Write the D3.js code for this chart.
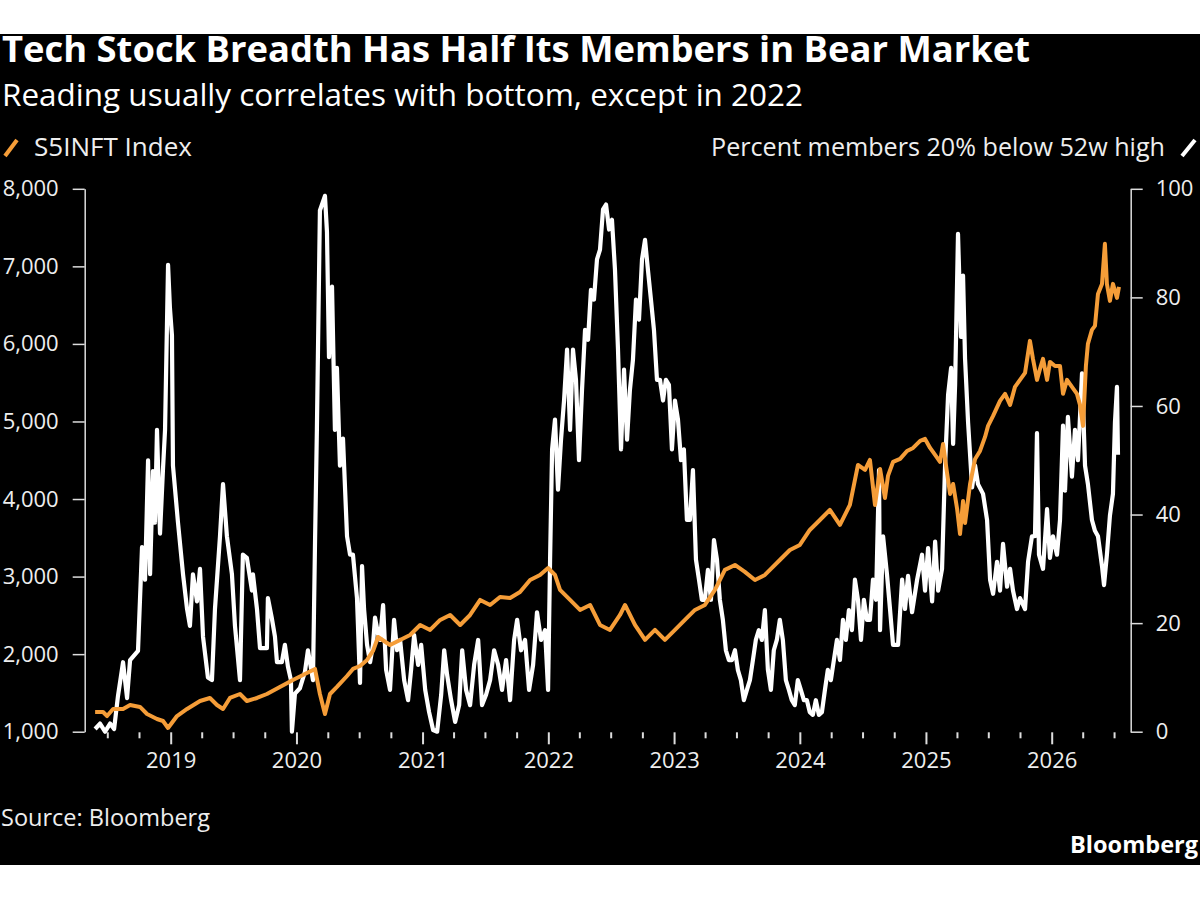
<!DOCTYPE html>
<html>
<head>
<meta charset="utf-8">
<script src="https://cdn.jsdelivr.net/npm/d3@7"></script>
<style>
  body { margin: 0; background: #fff; }
  svg { display: block; }
</style>
</head>
<body>
<div id="chart"></div>
<script>
// Percent of S5INFT members 20% below their 52-week high (right axis)
// [decimal year, percent]
const breadthPoints = [
  [2018.399, 0.5], [2018.438, 1.5], [2018.478, 0], [2018.518, 1.5], [2018.550, 0.5],
  [2018.581, 6.6], [2018.621, 12.8], [2018.653, 6.2], [2018.677, 13.2], [2018.740, 14.9],
  [2018.772, 34], [2018.796, 28], [2018.820, 50], [2018.836, 29], [2018.859, 48],
  [2018.875, 38.5], [2018.891, 55.6], [2018.915, 36.5], [2018.939, 48.5], [2018.955, 55.6],
  [2018.979, 86], [2018.994, 78], [2019.010, 73], [2019.018, 49], [2019.058, 38.5],
  [2019.098, 29], [2019.130, 22.6], [2019.153, 19.5], [2019.177, 29], [2019.209, 24],
  [2019.233, 30], [2019.257, 17.5], [2019.296, 10], [2019.328, 9.5], [2019.352, 22.6],
  [2019.392, 36], [2019.416, 45.6], [2019.447, 36], [2019.487, 29], [2019.511, 19.5],
  [2019.551, 9.5], [2019.574, 32.6], [2019.606, 32], [2019.646, 26], [2019.654, 29],
  [2019.686, 22.6], [2019.710, 15.4], [2019.765, 15.4], [2019.773, 24.6], [2019.805, 20.8],
  [2019.829, 17.5], [2019.845, 12.8], [2019.884, 12.8], [2019.908, 16], [2019.932, 12],
  [2019.956, 9.5], [2019.964, 0], [2019.988, 7], [2020.027, 8], [2020.067, 11],
  [2020.091, 15], [2020.131, 9.5], [2020.147, 34.6], [2020.162, 55.6], [2020.186, 96],
  [2020.226, 98.7], [2020.242, 92], [2020.258, 69], [2020.282, 82], [2020.305, 55.6],
  [2020.321, 67], [2020.345, 49], [2020.369, 54], [2020.401, 36], [2020.425, 32.6],
  [2020.448, 32.6], [2020.480, 24.6], [2020.504, 9], [2020.520, 30.5], [2020.536, 22.6],
  [2020.560, 16], [2020.584, 12.8], [2020.607, 16], [2020.623, 21], [2020.647, 18],
  [2020.663, 16.9], [2020.687, 23.3], [2020.711, 11.4], [2020.742, 7.7], [2020.774, 20.6],
  [2020.798, 15], [2020.822, 16.9], [2020.854, 9.5], [2020.885, 5.8], [2020.909, 11.4],
  [2020.933, 17.8], [2020.965, 12.3], [2020.989, 16], [2021.021, 7.7], [2021.052, 3.6],
  [2021.084, 0.3], [2021.116, 0], [2021.148, 6.8], [2021.172, 15], [2021.195, 10.5],
  [2021.227, 5.8], [2021.259, 1.8], [2021.291, 4.9], [2021.315, 15], [2021.346, 7.7],
  [2021.378, 4.9], [2021.410, 12.3], [2021.442, 16.9], [2021.473, 4.9], [2021.505, 6.8],
  [2021.537, 9.5], [2021.569, 15], [2021.601, 12.3], [2021.632, 7.7], [2021.664, 13.2],
  [2021.696, 5.8], [2021.728, 16.9], [2021.752, 20.6], [2021.783, 15], [2021.815, 16.9],
  [2021.847, 7.7], [2021.879, 12.3], [2021.910, 22], [2021.942, 16.9], [2021.974, 18.7],
  [2021.998, 7.7], [2022.014, 31.7], [2022.030, 52], [2022.053, 57.5], [2022.077, 44.6],
  [2022.101, 53.8], [2022.125, 61], [2022.149, 70.4], [2022.173, 55.6], [2022.196, 70.4],
  [2022.220, 64.8], [2022.244, 50], [2022.268, 63], [2022.292, 74], [2022.316, 72.2],
  [2022.339, 81.4], [2022.363, 79.6], [2022.387, 87], [2022.411, 88.8], [2022.435, 96.2],
  [2022.459, 97.1], [2022.483, 92.5], [2022.506, 94.3], [2022.530, 85.1], [2022.554, 70.4],
  [2022.578, 52], [2022.602, 66.7], [2022.626, 53.8], [2022.649, 63], [2022.673, 68.5],
  [2022.697, 79.6], [2022.721, 75.9], [2022.745, 87], [2022.769, 90.6], [2022.792, 85.1],
  [2022.816, 79.6], [2022.840, 74], [2022.864, 64.8], [2022.888, 64.8], [2022.912, 61],
  [2022.935, 64.8], [2022.959, 63.9], [2022.983, 52], [2023.007, 61], [2023.031, 57.5],
  [2023.055, 50], [2023.078, 52], [2023.102, 39], [2023.126, 39], [2023.150, 48.2],
  [2023.174, 31.7], [2023.198, 28], [2023.221, 24.3], [2023.245, 24.3], [2023.269, 29.8],
  [2023.293, 24.3], [2023.317, 35.3], [2023.341, 31.7], [2023.364, 24.3], [2023.388, 20.6],
  [2023.412, 15], [2023.436, 13.2], [2023.460, 13.2], [2023.484, 15], [2023.507, 11.4],
  [2023.531, 9.5], [2023.555, 5.8], [2023.579, 7.7], [2023.603, 9.5], [2023.627, 13.2],
  [2023.650, 16.9], [2023.674, 18.7], [2023.698, 16.9], [2023.722, 22.4], [2023.746, 11.4],
  [2023.770, 7.7], [2023.793, 15], [2023.817, 16.9], [2023.841, 20.6], [2023.865, 16.9],
  [2023.889, 9.5], [2023.913, 7.7], [2023.936, 5.8], [2023.960, 4.9], [2023.984, 9.5],
  [2024.008, 7.7], [2024.032, 5.8], [2024.056, 5.8], [2024.079, 3.6], [2024.103, 3.1],
  [2024.127, 5.8], [2024.151, 3.1], [2024.175, 3.6], [2024.199, 7.7], [2024.222, 11.4],
  [2024.246, 9.5], [2024.270, 13.2], [2024.294, 16.9], [2024.318, 13.2], [2024.342, 20.6],
  [2024.365, 16.9], [2024.389, 22.4], [2024.413, 18.7], [2024.437, 28], [2024.461, 24.3],
  [2024.485, 16.9], [2024.508, 24.3], [2024.532, 20.6], [2024.556, 20.6], [2024.580, 28],
  [2024.604, 24.3], [2024.628, 48.2], [2024.636, 18.7], [2024.660, 36], [2024.691, 29],
  [2024.715, 22.6], [2024.739, 16], [2024.779, 16], [2024.811, 28], [2024.834, 22.6],
  [2024.858, 28.7], [2024.890, 22], [2024.930, 28], [2024.969, 32.6], [2024.993, 26],
  [2025.017, 33.8], [2025.049, 24], [2025.073, 35], [2025.097, 26], [2025.128, 30],
  [2025.152, 49], [2025.176, 62], [2025.200, 67], [2025.216, 53], [2025.232, 64],
  [2025.255, 91.7], [2025.279, 72.7], [2025.295, 84], [2025.311, 68.7], [2025.335, 57],
  [2025.367, 45], [2025.391, 49], [2025.414, 45.6], [2025.454, 43.8], [2025.486, 39],
  [2025.510, 28], [2025.534, 25.4], [2025.565, 31.3], [2025.589, 26], [2025.613, 34.6],
  [2025.645, 26.7], [2025.669, 30], [2025.692, 26], [2025.724, 22.6], [2025.748, 24.6],
  [2025.788, 22.6], [2025.812, 31.3], [2025.843, 36], [2025.867, 36], [2025.883, 55],
  [2025.899, 32.6], [2025.931, 30], [2025.963, 41], [2025.986, 32], [2026.010, 36],
  [2026.042, 32.6], [2026.066, 39], [2026.090, 56.4], [2026.106, 44.4], [2026.129, 58],
  [2026.161, 47], [2026.185, 55.6], [2026.209, 50], [2026.241, 66], [2026.265, 49],
  [2026.288, 45.6], [2026.320, 39], [2026.344, 37], [2026.368, 36], [2026.400, 30.5],
  [2026.416, 27], [2026.439, 32.6], [2026.463, 39.8], [2026.487, 43.8], [2026.503, 57],
  [2026.519, 63.5], [2026.527, 51]
];

// S5INFT Index level (left axis)
// [decimal year, index]
const indexPoints = [
  [2018.399, 1254], [2018.462, 1254], [2018.494, 1202], [2018.542, 1293], [2018.621, 1293],
  [2018.677, 1344], [2018.756, 1319], [2018.812, 1228], [2018.891, 1164], [2018.939, 1138],
  [2018.979, 1048], [2019.050, 1202], [2019.130, 1293], [2019.233, 1396], [2019.312, 1435],
  [2019.368, 1344], [2019.416, 1293], [2019.471, 1435], [2019.551, 1486], [2019.606, 1396],
  [2019.686, 1435], [2019.765, 1486], [2019.868, 1577], [2019.972, 1667], [2020.083, 1757],
  [2020.147, 1809], [2020.186, 1486], [2020.226, 1228], [2020.266, 1486], [2020.321, 1577],
  [2020.401, 1718], [2020.448, 1809], [2020.504, 1847], [2020.560, 1925], [2020.607, 2041],
  [2020.647, 2221], [2020.742, 2118], [2020.822, 2183], [2020.901, 2247], [2020.981, 2376],
  [2021.060, 2312], [2021.140, 2441], [2021.219, 2505], [2021.299, 2376], [2021.378, 2505],
  [2021.458, 2699], [2021.537, 2634], [2021.616, 2737], [2021.696, 2724], [2021.775, 2802],
  [2021.855, 2956], [2021.934, 3021], [2021.998, 3111], [2022.053, 3021], [2022.093, 2828],
  [2022.173, 2699], [2022.252, 2570], [2022.332, 2634], [2022.411, 2376], [2022.490, 2312],
  [2022.570, 2505], [2022.610, 2634], [2022.689, 2376], [2022.769, 2183], [2022.848, 2312],
  [2022.927, 2183], [2023.007, 2312], [2023.086, 2441], [2023.166, 2570], [2023.245, 2634],
  [2023.325, 2828], [2023.404, 3086], [2023.484, 3150], [2023.563, 3060], [2023.643, 2956],
  [2023.722, 3021], [2023.762, 3086], [2023.841, 3214], [2023.921, 3343], [2024.000, 3408],
  [2024.079, 3601], [2024.159, 3730], [2024.238, 3859], [2024.318, 3666], [2024.397, 3924],
  [2024.461, 4440], [2024.517, 4375], [2024.556, 4504], [2024.596, 3924], [2024.636, 4388],
  [2024.675, 4014], [2024.699, 4298], [2024.739, 4478], [2024.795, 4517], [2024.850, 4620],
  [2024.898, 4659], [2024.954, 4749], [2024.993, 4775], [2025.033, 4659], [2025.073, 4569],
  [2025.112, 4478], [2025.136, 4710], [2025.168, 4336], [2025.192, 4065], [2025.216, 4194],
  [2025.248, 3872], [2025.271, 3549], [2025.295, 3975], [2025.311, 3691], [2025.351, 4194],
  [2025.391, 4517], [2025.430, 4620], [2025.470, 4801], [2025.494, 4943], [2025.534, 5072],
  [2025.589, 5265], [2025.629, 5356], [2025.669, 5214], [2025.708, 5446], [2025.748, 5536],
  [2025.788, 5627], [2025.827, 6039], [2025.851, 5807], [2025.883, 5536], [2025.907, 5678],
  [2025.931, 5807], [2025.963, 5536], [2025.986, 5768], [2026.026, 5716], [2026.066, 5716],
  [2026.090, 5356], [2026.122, 5536], [2026.161, 5446], [2026.201, 5356], [2026.225, 5214],
  [2026.249, 4943], [2026.272, 5716], [2026.288, 6000], [2026.320, 6181], [2026.344, 6233],
  [2026.368, 6645], [2026.400, 6774], [2026.423, 7290], [2026.439, 6774], [2026.463, 6555],
  [2026.487, 6774], [2026.519, 6594], [2026.535, 6735]
];

const leftTicks = [1000, 2000, 3000, 4000, 5000, 6000, 7000, 8000];
const rightTicks = [0, 20, 40, 60, 80, 100];

const ORANGE = '#f59d38';
const WHITE = '#ffffff';
const FONT = '"Open Sans", "Noto Sans", sans-serif';

const width = 1200, height = 900;

// decimal year -> UTC date
function yearDate(y) {
  const yr = Math.floor(y);
  const a = Date.UTC(yr, 0, 1), b = Date.UTC(yr + 1, 0, 1);
  return new Date(a + (y - yr) * (b - a));
}

// shrink/grow a text's font so it spans the given width
function fitText(sel, target) {
  const len = sel.node().getComputedTextLength();
  const fs = parseFloat(sel.attr('font-size'));
  sel.attr('font-size', (fs * target / len).toFixed(2));
}

const svg = d3.select('#chart').append('svg')
  .attr('width', width)
  .attr('height', height);

svg.append('rect')
  .attr('x', 0).attr('y', 34)
  .attr('width', width).attr('height', 831)
  .attr('fill', '#000');

// Scales
const x = d3.scaleUtc()
  .domain([yearDate(2019), yearDate(2026)])
  .range([170.7, 1051.7]);

const yLeft = d3.scaleLinear().domain([1000, 8000]).range([731.7, 188.8]);
const yRight = d3.scaleLinear().domain([0, 100]).range([731.7, 188.8]);

// Titles
const title = svg.append('text')
  .attr('x', 2).attr('y', 61.5)
  .attr('font-family', FONT).attr('font-weight', 700)
  .attr('font-size', 32).attr('fill', WHITE)
  .text('Tech Stock Breadth Has Half Its Members in Bear Market');
fitText(title, 1028);

const subtitle = svg.append('text')
  .attr('x', 2).attr('y', 105.5)
  .attr('font-family', FONT)
  .attr('font-size', 27).attr('fill', WHITE)
  .text('Reading usually correlates with bottom, except in 2022');
fitText(subtitle, 801);

// Legend
svg.append('line')
  .attr('x1', 5).attr('y1', 156).attr('x2', 17).attr('y2', 140)
  .attr('stroke', ORANGE).attr('stroke-width', 4);
const legL = svg.append('text')
  .attr('x', 34).attr('y', 156)
  .attr('font-family', FONT).attr('font-size', 23).attr('fill', '#eee')
  .text('S5INFT Index');
fitText(legL, 158);

svg.append('line')
  .attr('x1', 1182).attr('y1', 156).attr('x2', 1195).attr('y2', 140)
  .attr('stroke', WHITE).attr('stroke-width', 4);
const legR = svg.append('text')
  .attr('x', 1165).attr('y', 156)
  .attr('text-anchor', 'end')
  .attr('font-family', FONT).attr('font-size', 23).attr('fill', '#eee')
  .text('Percent members 20% below 52w high');
fitText(legR, 454);

// Axes
function styleAxis(g) {
  g.attr('font-family', FONT).attr('font-size', 22);
  g.selectAll('.domain').attr('stroke', '#ddd').attr('stroke-width', 1.5);
  g.selectAll('.tick line').attr('stroke', '#ddd').attr('stroke-width', 1.5);
  g.selectAll('.tick text').attr('fill', '#eee');
}

svg.append('g')
  .attr('transform', 'translate(84.7,0)')
  .call(d3.axisLeft(yLeft)
    .tickValues(leftTicks)
    .tickSize(12).tickSizeOuter(0).tickPadding(14)
    .tickFormat(d3.format(',')))
  .call(styleAxis);

svg.append('g')
  .attr('transform', 'translate(1130.7,0)')
  .call(d3.axisRight(yRight)
    .tickValues(rightTicks)
    .tickSize(12).tickSizeOuter(0).tickPadding(13))
  .call(styleAxis);

const quarters = d3.utcMonth.every(3)
  .range(new Date(Date.UTC(2018, 6, 1)), new Date(Date.UTC(2026, 6, 2)));

const xAxis = svg.append('g')
  .attr('transform', 'translate(0,732.3)')
  .call(d3.axisBottom(x)
    .tickValues(quarters)
    .tickSize(12).tickSizeOuter(0)
    .tickFormat(d => d.getUTCMonth() === 0 ? d3.utcFormat('%Y')(d) : ''))
  .call(styleAxis);
xAxis.select('.domain').remove();
xAxis.selectAll('.tick line')
  .attr('stroke-width', 2)
  .attr('y2', d => d.getUTCMonth() === 0 ? 12 : 6);
xAxis.selectAll('.tick text').attr('y', 36).attr('dy', 0);

// Lines
const breadthLine = d3.line()
  .x(d => x(yearDate(d[0])))
  .y(d => yRight(d[1]));

const indexLine = d3.line()
  .x(d => x(yearDate(d[0])))
  .y(d => yLeft(d[1]));

svg.append('path')
  .datum(breadthPoints)
  .attr('d', breadthLine)
  .attr('fill', 'none')
  .attr('stroke', WHITE)
  .attr('stroke-width', 4.2)
  .attr('stroke-linejoin', 'round');

svg.append('path')
  .datum(indexPoints)
  .attr('d', indexLine)
  .attr('fill', 'none')
  .attr('stroke', ORANGE)
  .attr('stroke-width', 4)
  .attr('stroke-linejoin', 'round');

// Footer
const source = svg.append('text')
  .attr('x', 1).attr('y', 826)
  .attr('font-family', FONT).attr('font-size', 22).attr('fill', '#eee')
  .text('Source: Bloomberg');
fitText(source, 209);

const brand = svg.append('text')
  .attr('x', 1198).attr('y', 853)
  .attr('text-anchor', 'end')
  .attr('font-family', FONT).attr('font-weight', 700)
  .attr('font-size', 22).attr('fill', WHITE)
  .text('Bloomberg');
fitText(brand, 128);
</script>
</body>
</html>
